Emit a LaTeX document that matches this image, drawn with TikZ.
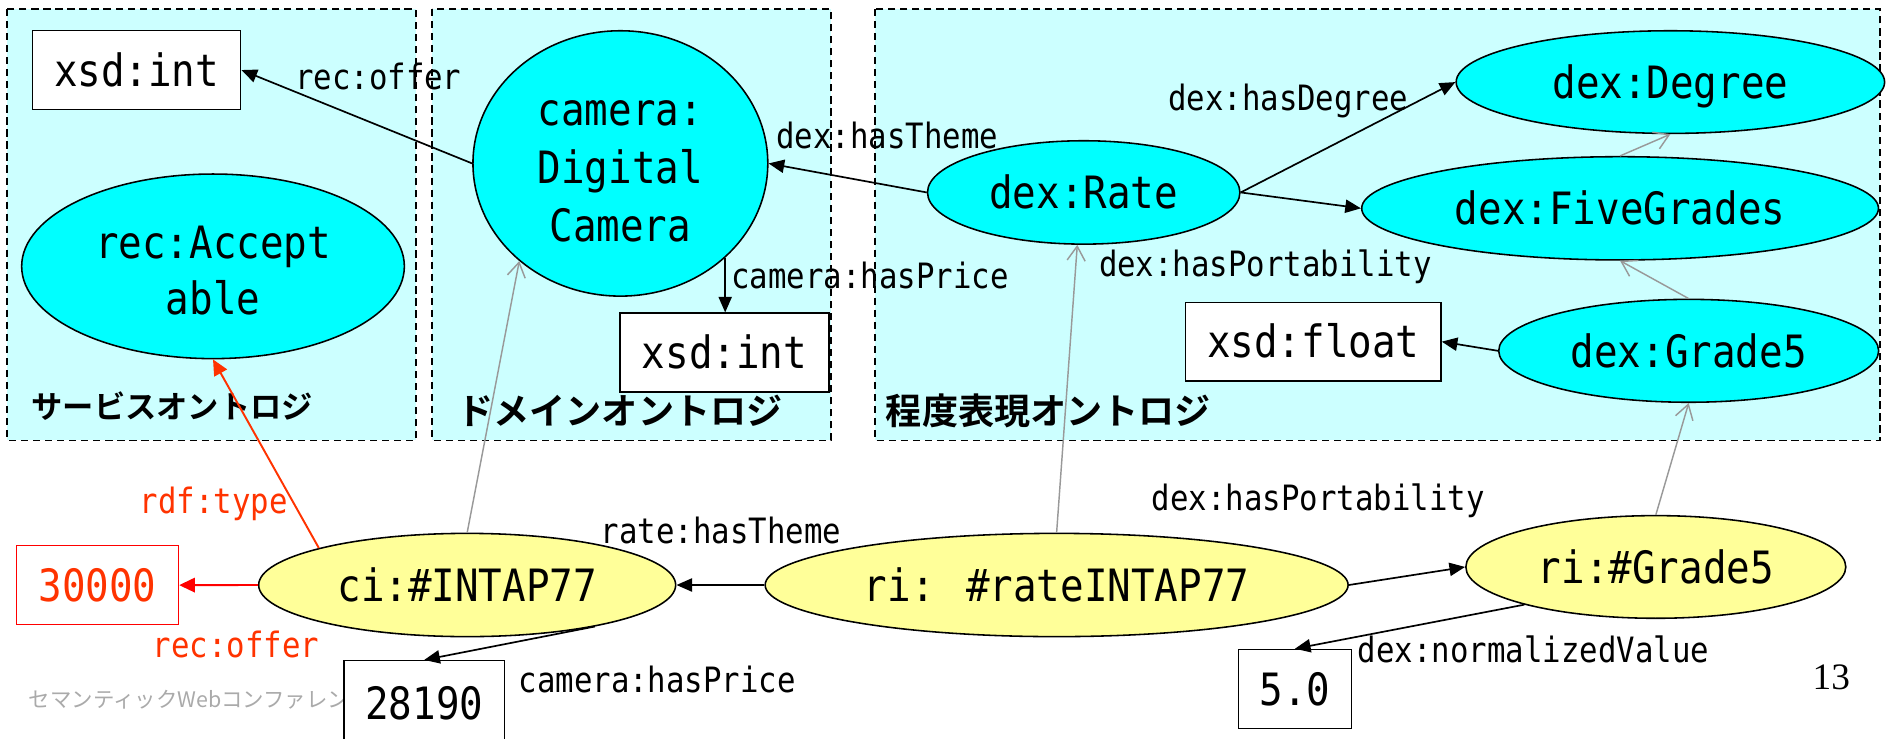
\documentclass[tikz,border=0pt]{standalone}
\usepackage{fontspec}
\setmainfont{DejaVu Sans Mono}[FakeStretch=0.88]
\newfontfamily\jp{Noto Sans CJK JP}
\newfontfamily\jpb{Noto Sans CJK JP Bold}
\newfontfamily\seriffont{Liberation Serif}
\usetikzlibrary{shapes.geometric,arrows.meta}
\definecolor{bgcyan}{HTML}{CCFFFF}
\definecolor{ncyan}{HTML}{00FFFF}
\definecolor{nyellow}{HTML}{FFFF99}
\definecolor{rred}{HTML}{FF3300}
\definecolor{boxred}{HTML}{FF0000}
\definecolor{garrow}{HTML}{999999}
\definecolor{foot}{HTML}{AAAAAA}
\tikzset{
  bigtext/.style={font=\fontsize{37pt}{47pt}\selectfont},
  lbl/.style={font=\fontsize{29pt}{35pt}\selectfont, anchor=base west, inner sep=0pt},
  jplbl/.style={font=\jpb, anchor=base west, inner sep=0pt},
  area/.style={draw, fill=bgcyan, line width=1.2pt, dash pattern=on 6pt off 4pt},
  cls/.style={ellipse, draw, fill=ncyan, line width=1.3pt, inner sep=0pt, bigtext, align=center},
  inst/.style={ellipse, draw, fill=nyellow, line width=1.3pt, inner sep=0pt, bigtext},
  lit/.style={rectangle, draw, fill=white, line width=1.3pt, inner sep=0pt, bigtext},
  oneline/.style={text height=27pt, text depth=0pt},
  arr/.style={-{Triangle[length=13pt,width=11pt]}, line width=1.4pt},
  garr/.style={-{Straight Barb[length=12pt,width=15pt]}, draw=garrow, line width=1.2pt},
  rarr/.style={-{Triangle[length=13pt,width=12pt]}, line width=1.6pt},
}
\begin{document}
\begin{tikzpicture}[x=1pt,y=-1pt]
\useasboundingbox (0,0) rectangle (1568,614);
\fill[white] (0,0) rectangle (1568,614);
% ontology areas
\draw[area] (6,7.5) rectangle (345.5,366);
\draw[area] (359,7.5) rectangle (690.5,366);
\draw[area] (727,7.5) rectangle (1562,366);
% area titles
\node[jplbl, font=\jpb\fontsize{26pt}{30pt}\selectfont] (t1) at (26,348) {サービスオントロジ};
\node[jplbl, font=\jpb\fontsize{30pt}{34pt}\selectfont] (t2) at (380,353) {ドメインオントロジ};
\node[jplbl, font=\jpb\fontsize{30pt}{34pt}\selectfont] (t3) at (736,353) {程度表現オントロジ};
% footer
\node[anchor=base west, inner sep=0pt, text=foot, font=\jp\fontsize{17.8pt}{20pt}\selectfont] (foot) at (23.7,587.7) {セマンティックWebコンファレン};
\node[anchor=base west, inner sep=0pt, font=\seriffont\fontsize{31pt}{35pt}\selectfont] (pg) at (1506,573.3) {13};
% nodes
\node[lit, oneline, minimum width=173pt, minimum height=65.5pt] (xsd1) at (113.5,58.2) {xsd:int};
\node[cls, minimum width=318pt, minimum height=153.4pt] (acc) at (177,221.3) {\rule{0pt}{34pt}rec:Accept\\able};
\node[cls, font=\fontsize{37pt}{48pt}\selectfont, minimum width=245pt, minimum height=220.5pt] (cam) at (515.5,135.8) {\rule{0pt}{34pt}camera:\\Digital\\Camera};
\node[lit, oneline, minimum width=174pt, minimum height=65.5pt] (xsd2) at (602,293) {xsd:int};
\node[cls, oneline, minimum width=356pt, minimum height=85.3pt] (deg) at (1388,68.2) {dex:Degree};
\node[cls, oneline, minimum width=259.6pt, minimum height=85.9pt] (rate) at (900.5,159.9) {dex:Rate};
\node[cls, oneline, minimum width=429.4pt, minimum height=85.8pt] (five) at (1346.2,173.1) {dex:FiveGrades};
\node[cls, oneline, minimum width=315.7pt, minimum height=85.5pt] (g5) at (1403.2,291.5) {dex:Grade5};
\node[lit, oneline, minimum width=212.3pt, minimum height=65.4pt] (flt) at (1091.2,283.9) {xsd:float};
\node[inst, oneline, minimum width=346.5pt, minimum height=85.8pt] (ci) at (388.2,486.1) {ci:\#INTAP77};
\node[lit, oneline, draw=boxred, text=rred, minimum width=134.5pt, minimum height=65.6pt] (b30) at (81,486.2) {30000};
\node[inst, oneline, minimum width=484.4pt, minimum height=85.8pt] (ri) at (878,486.1) {ri: \#rateINTAP77};
\node[inst, oneline, minimum width=315.7pt, minimum height=85.3pt] (rig) at (1375.9,471.1) {ri:\#Grade5};
\node[lit, oneline, minimum width=133.5pt, minimum height=71pt] (b28) at (352.5,584.5) {28190};
\node[lit, oneline, minimum width=93.7pt, minimum height=65.6pt] (b50) at (1076,572.5) {5.0};
% edge labels
\node[lbl] (l1) at (245,74.2) {rec:offer};
\node[lbl] (l2) at (645,123.3) {dex:hasTheme};
\node[lbl] (l3) at (607.6,239.6) {camera:hasPrice};
\node[lbl] (l4) at (970.4,91.8) {dex:hasDegree};
\node[lbl] (l5) at (913,229.4) {dex:hasPortability};
\node[lbl, text=rred] (l6) at (116,426.5) {rdf:type};
\node[lbl] (l7) at (499,451.5) {rate:hasTheme};
\node[lbl, text=rred] (l8) at (126.7,546.5) {rec:offer};
\node[lbl] (l9) at (430.7,575.6) {camera:hasPrice};
\node[lbl] (l10) at (956.8,424.6) {dex:hasPortability};
\node[lbl] (l11) at (1128,550.4) {dex:normalizedValue};
% connectors
\draw[arr] (cam.west) -- (xsd1.east);
\draw[arr] (rate.west) -- (cam.east);
\draw[arr] (cam.-42) -- (cam.-42 |- xsd2.north);
\draw[arr] (rate.east) -- (deg.west);
\draw[arr] (rate.east) -- (five.west);
\draw[garr] (five.north) -- (deg.south);
\draw[garr] (g5.north) -- (five.south);
\draw[arr] (g5.west) -- (flt.east);
\draw[rarr, draw=rred] (ci.166) -- (acc.south);
\draw[rarr, draw=boxred] (ci.west) -- (b30.east);
\draw[garr] (ci.north) -- (cam.-136);
\draw[arr] (ci.-18) -- (b28.north);
\draw[arr] (ri.west) -- (ci.east);
\draw[garr] (ri.north) -- (rate.-97);
\draw[arr] (ri.east) -- (rig.west);
\draw[garr] (rig.north) -- (g5.south);
\draw[arr] (rig.-164) -- (b50.north);
\end{tikzpicture}
\end{document}
